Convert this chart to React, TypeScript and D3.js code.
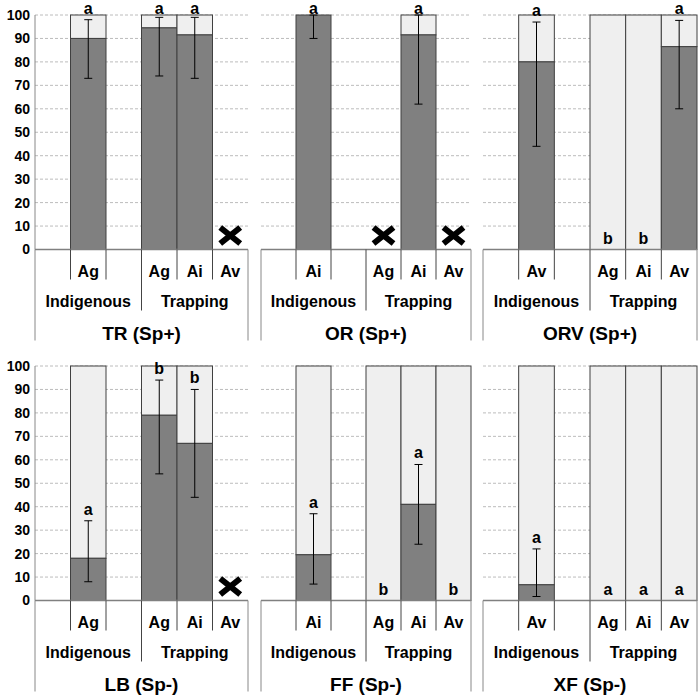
import React, { useEffect, useRef } from 'react';
import * as d3 from 'd3';

const panelTitles = ['TR (Sp+)', 'OR (Sp+)', 'ORV (Sp+)', 'LB (Sp-)', 'FF (Sp-)', 'XF (Sp-)'];
const groupLabels = ['Indigenous', 'Trapping'];
const slotLabels = [
  ['', 'Ag', '', 'Ag', 'Ai', 'Av'],
  ['', 'Ai', '', 'Ag', 'Ai', 'Av'],
  ['', 'Av', '', 'Ag', 'Ai', 'Av'],
  ['', 'Ag', '', 'Ag', 'Ai', 'Av'],
  ['', 'Ai', '', 'Ag', 'Ai', 'Av'],
  ['', 'Av', '', 'Ag', 'Ai', 'Av'],
];
// slots that hold a bar (Indigenous one, Trapping three)
const barSlots = [1, 3, 4, 5];
// percent values, null = not tested (X)
const values = [
  [90, 94.5, 91.5, null],
  [100, null, 91.5, null],
  [80, 0, 0, 86.5],
  [18, 79, 67, null],
  [19.5, 0, 41, 0],
  [6.7, 0, 0, 0],
];
const errLow = [
  [73, 74, 73, null],
  [90, null, 62, null],
  [44, null, null, 60],
  [8, 54, 44, null],
  [7, null, 24, null],
  [1.7, null, null, null],
];
const errHigh = [
  [98, 99, 99, null],
  [100, null, 100, null],
  [97, null, null, 97.7],
  [34, 94, 90, null],
  [37, null, 58, null],
  [22, null, null, null],
];
const letters = [
  ['a', 'a', 'a', ''],
  ['a', '', 'a', ''],
  ['a', 'b', 'b', 'a'],
  ['a', 'b', 'b', ''],
  ['a', 'b', 'a', 'b'],
  ['a', 'a', 'a', 'a'],
];
const yTicks = [0, 10, 20, 30, 40, 50, 60, 70, 80, 90, 100];

const FONT = '"Liberation Sans", Arial, sans-serif';

const App = () => {
  const svgRef = useRef<SVGSVGElement>(null);

  useEffect(() => {
    const svg = d3.select(svgRef.current);
    svg.selectAll('*').remove();
    svg.attr('width', 700).attr('height', 700);

    const rowTops = [15, 366];
    const plotH = 234.5;
    const colX: [number, number][] = [[35, 248], [261, 471], [483, 697]];

    panelTitles.forEach((title, p) => {
      const row = Math.floor(p / 3);
      const col = p % 3;
      const [x0, x1] = colX[col];
      const y = d3.scaleLinear().domain([0, 100]).range([rowTops[row] + plotH, rowTops[row]]);
      const x = d3.scaleBand<number>().domain(d3.range(6)).range([x0, x1]).padding(0);
      const bw = x.bandwidth();
      const base = y(0);
      const g = svg.append('g').style('font-family', FONT).style('font-weight', 'bold');

      // gridlines
      g.selectAll('line.grid')
        .data(yTicks.slice(1))
        .enter()
        .append('line')
        .attr('x1', x0)
        .attr('x2', x1)
        .attr('y1', d => y(d))
        .attr('y2', d => y(d))
        .attr('stroke', '#bcbcbc')
        .attr('stroke-dasharray', '3,2');

      // y axis only on the left column
      if (col === 0) {
        const ax = g.append('g')
          .attr('transform', `translate(${x0},0)`)
          .call(d3.axisLeft(y).tickValues(yTicks).tickSize(0).tickPadding(5));
        ax.select('.domain').remove();
        ax.selectAll('text')
          .style('font-size', '14px')
          .style('font-family', FONT)
          .style('font-weight', 'bold')
          .attr('fill', '#000');
        g.append('line')
          .attr('x1', x0).attr('x2', x0)
          .attr('y1', y(100)).attr('y2', base)
          .attr('stroke', '#888');
      }

      barSlots.forEach((slot, i) => {
        const v = values[p][i];
        const cx = (x(slot) as number) + bw / 2;
        if (v === null) {
          const cy = base - 14;
          g.append('path')
            .attr('d', `M${cx - 10},${cy - 8}L${cx + 10},${cy + 8}M${cx - 10},${cy + 8}L${cx + 10},${cy - 8}`)
            .attr('stroke', '#000')
            .attr('stroke-width', 6);
          return;
        }
        if (v < 100) {
          g.append('rect')
            .attr('x', x(slot) as number)
            .attr('y', y(100))
            .attr('width', bw)
            .attr('height', y(v) - y(100))
            .attr('fill', '#efefef')
            .attr('stroke', '#404040');
        }
        if (v > 0) {
          g.append('rect')
            .attr('x', x(slot) as number)
            .attr('y', y(v))
            .attr('width', bw)
            .attr('height', base - y(v))
            .attr('fill', '#808080')
            .attr('stroke', '#404040');
        }
        const lo = errLow[p][i];
        const hi = errHigh[p][i];
        if (lo !== null && hi !== null) {
          g.append('line')
            .attr('x1', cx).attr('x2', cx)
            .attr('y1', y(lo)).attr('y2', y(hi))
            .attr('stroke', '#000');
          [lo, hi].forEach(e => {
            g.append('line')
              .attr('x1', cx - 4).attr('x2', cx + 4)
              .attr('y1', y(e)).attr('y2', y(e))
              .attr('stroke', '#000');
          });
        }
        if (letters[p][i]) {
          const top = hi !== null ? hi : v;
          g.append('text')
            .attr('x', cx)
            .attr('y', Math.max(14, y(top) - 6))
            .attr('text-anchor', 'middle')
            .style('font-size', '16px')
            .text(letters[p][i]);
        }
      });

      // x axis
      g.append('line')
        .attr('x1', x0).attr('x2', x1)
        .attr('y1', base).attr('y2', base)
        .attr('stroke', '#808080')
        .attr('stroke-width', 1.5);

      // multi-level category lines
      d3.range(7).forEach(k => {
        const lx = x0 + k * bw;
        const len = k === 0 || k === 6 ? 91 : k === 3 ? 61 : 30;
        g.append('line')
          .attr('x1', lx).attr('x2', lx)
          .attr('y1', base).attr('y2', base + len)
          .attr('stroke', k === 0 || k === 6 ? '#888' : '#444');
      });

      slotLabels[p].forEach((lab, s) => {
        if (!lab) return;
        g.append('text')
          .attr('x', (x(s) as number) + bw / 2)
          .attr('y', base + 27)
          .attr('text-anchor', 'middle')
          .style('font-size', '16px')
          .text(lab);
      });

      groupLabels.forEach((lab, k) => {
        g.append('text')
          .attr('x', x0 + (k * 3 + 1.5) * bw)
          .attr('y', base + 57)
          .attr('text-anchor', 'middle')
          .style('font-size', '16px')
          .text(lab);
      });

      g.append('text')
        .attr('x', (x0 + x1) / 2)
        .attr('y', base + 90)
        .attr('text-anchor', 'middle')
        .style('font-size', '19px')
        .text(title);
    });
  }, []);

  return (
    <svg ref={svgRef} style={{ position: 'absolute', left: 0, top: 0, background: '#fff' }}></svg>
  );
};

export default App;
